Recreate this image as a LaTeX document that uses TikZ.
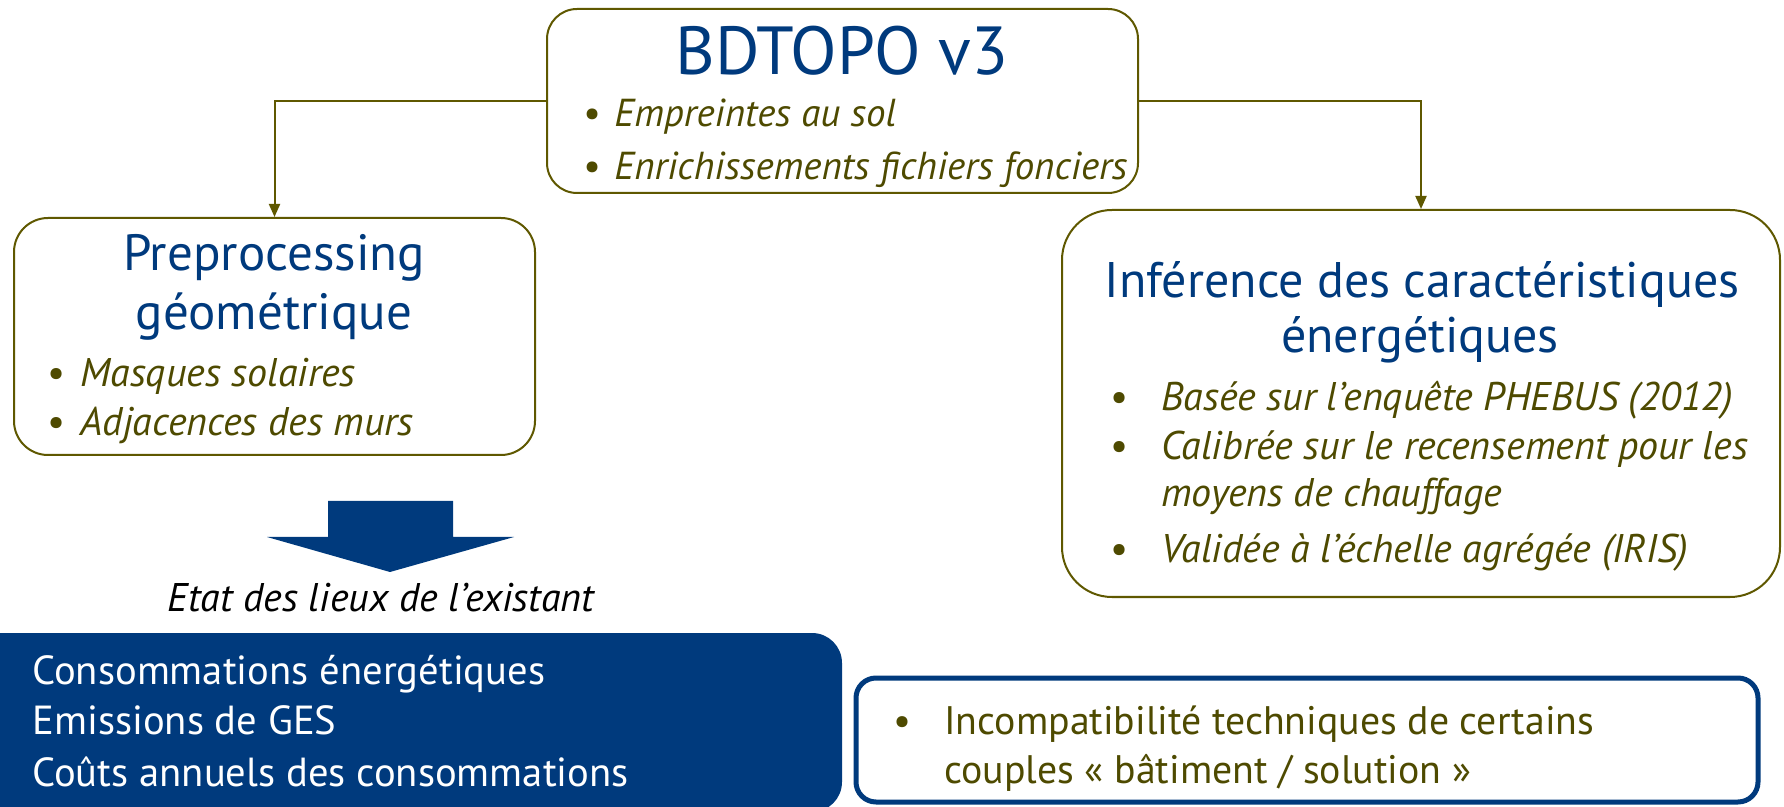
\documentclass[tikz,border=0pt]{standalone}
\usepackage{fontspec}
\setmainfont{PT Sans}
\usepackage{tikz}
\usetikzlibrary{arrows.meta,positioning,calc}
\definecolor{navy}{RGB}{0,58,125}
\definecolor{olivetxt}{RGB}{78,74,0}
\definecolor{oliveline}{RGB}{95,88,0}
\newcommand{\puce}[1]{\makebox[#1][l]{\textbullet}}

\begin{document}
\begin{tikzpicture}[x=0.5pt,y=-0.5pt,
    box/.style={draw=oliveline,line width=1pt,fill=white},
    titre/.style={text=navy,font=\fontsize{25.5}{30}\selectfont,anchor=base,inner sep=0pt},
    liste/.style={text=olivetxt,font=\fontsize{20}{24}\selectfont\itshape,anchor=base west,inner sep=0pt},
    blanc/.style={text=white,font=\fontsize{20.3}{24}\selectfont,anchor=base west,inner sep=0pt},
    lien/.style={draw=oliveline,line width=1pt,-{Triangle[length=6.5pt,width=5.5pt]}}]
    \useasboundingbox (0,0) rectangle (1784,807);

    % les trois cadres du haut
    \node [box,rounded corners=15pt,minimum width=295.5pt,minimum height=92pt] (bdtopo) at (842.5,101) {};
    \node [box,rounded corners=17pt,minimum width=260.5pt,minimum height=118.5pt] (prepro) at (274.5,336.5) {};
    \node [box,rounded corners=25pt,minimum width=359pt,minimum height=193.5pt] (infer) at (1421,403.5) {};

    \draw [lien] (bdtopo.west) -| (prepro.north);
    \draw [lien] (bdtopo.east) -| (infer.north);

    % BDTOPO
    \node [titre,font=\fontsize{34}{40}\selectfont] (t0) at (842,75) {BDTOPO v3};
    \node [liste,font=\fontsize{19.5}{24}\selectfont\itshape] (b01) at (582,127) {\puce{16pt}Empreintes au sol};
    \node [liste,font=\fontsize{19.5}{24}\selectfont\itshape] (b02) at (582,180) {\puce{16pt}Enrichissements fichiers fonciers};

    % preprocessing
    \node [titre] (t1) at (274,271) {Preprocessing};
    \node [titre] (t1b) at (274,330) {géométrique};
    \node [liste] (b11) at (46,387) {\puce{17pt}Masques solaires};
    \node [liste] (b12) at (46,436) {\puce{17pt}Adjacences des murs};

    % inference
    \node [titre,font=\fontsize{25}{30}\selectfont] (t2) at (1422,298) {Inférence des caractéristiques};
    \node [titre,font=\fontsize{25}{30}\selectfont] (t2b) at (1420,353) {énergétiques};
    \node [liste] (b21) at (1109,411) {\puce{26pt}Basée sur l’enquête PHEBUS (2012)};
    \node [liste] (b22) at (1109,460) {\puce{26pt}Calibrée sur le recensement pour les};
    \node [liste] (b22b) at (1161,507) {moyens de chauffage};
    \node [liste] (b23) at (1109,563) {\puce{26pt}Validée à l’échelle agrégée (IRIS)};

    % fleche bleue
    \fill [navy] (328,501) -- (453,501) -- (453,537) -- (514,537) -- (390,572)
        -- (267,537) -- (328,537) -- cycle;
    \node [liste,text=black,anchor=base] (etat) at (381,611) {Etat des lieux de l’existant};

    % existant
    \node [fill=navy,rounded corners=15pt,minimum width=441pt,minimum height=89.5pt] (exist) at (401,722.5) {};
    \node [blanc] (e1) at (32,684) {Consommations énergétiques};
    \node [blanc] (e2) at (32,734) {Emissions de GES};
    \node [blanc] (e3) at (32,786) {Coûts annuels des consommations};

    % incompatibilite
    \node [draw=navy,line width=2.5pt,rounded corners=10pt,minimum width=451pt,minimum height=62pt] (incompat) at (1307,740) {};
    \node [blanc,text=olivetxt,font=\fontsize{19.9}{24}\selectfont] (i1) at (893,734) {\puce{25.5pt}Incompatibilité techniques de certains};
    \node [blanc,text=olivetxt,font=\fontsize{19.9}{24}\selectfont] (i2) at (944,783) {couples « bâtiment / solution »};
\end{tikzpicture}
\end{document}
